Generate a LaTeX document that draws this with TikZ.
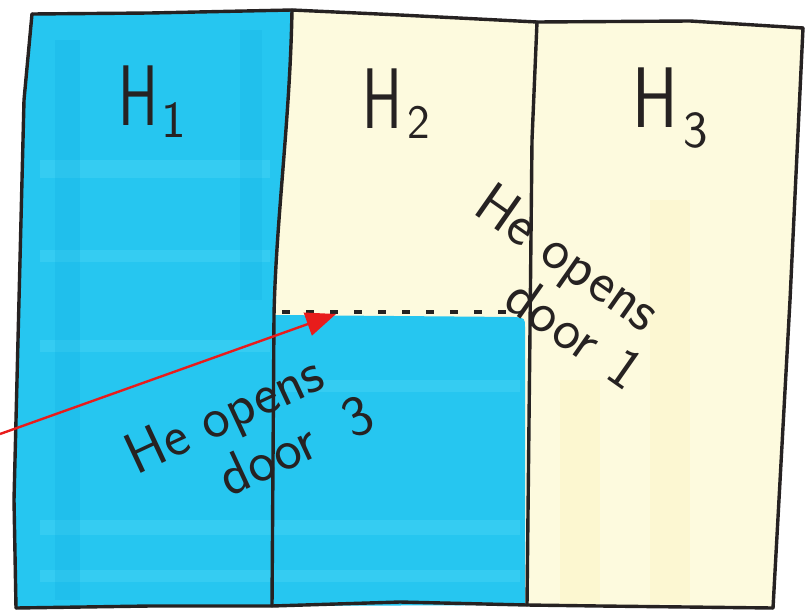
\documentclass[tikz,border=0pt]{standalone}
\usetikzlibrary{arrows.meta}
\definecolor{hblue}{RGB}{38,198,240}
\definecolor{hbluelight}{RGB}{90,220,248}
\definecolor{hbluedark}{RGB}{20,178,228}
\definecolor{cream}{RGB}{253,250,222}
\definecolor{creamy}{RGB}{252,246,200}
\definecolor{ink}{RGB}{38,34,34}
\definecolor{arrred}{RGB}{232,28,28}
\begin{document}
\begin{tikzpicture}[x=1pt,y=-1pt,
  edge/.style={draw=ink,line width=3.4pt,line cap=round,line join=round},
  hlabel/.style={font=\sffamily\fontsize{86}{90}\selectfont, text=ink, inner sep=0pt, anchor=base west},
  note/.style={font=\sffamily\fontsize{58}{59}\selectfont, text=ink, inner sep=0pt, align=left},
  streak/.style={fill=hbluelight, opacity=0.3},
  redarrow/.style={draw=arrred, line width=2.4pt, -{Triangle[length=30pt,width=24pt]}}]
\useasboundingbox (0,0) rectangle (805,613);
\fill[white] (0,0) rectangle (805,613);
% corners
\coordinate (tl) at (32,14);
\coordinate (t1) at (292,10);
\coordinate (t2) at (537,22);
\coordinate (tr) at (803,28);
\coordinate (br) at (773,608);
\coordinate (b2) at (527,605);
\coordinate (b1) at (272,606);
\coordinate (bl) at (16,608);
\coordinate (m1) at (274,315);
% cream background
\fill[cream] (tl) -- (150,13) -- (t1) -- (400,15) -- (t2) -- (690,21) -- (tr) -- (790,300) -- (br) -- (600,606) -- (b2) -- (400,602) -- (b1) -- (150,606) -- (bl) -- (14,500) -- (24,100) -- cycle;
\fill[creamy, opacity=0.6] (560,380) rectangle (600,604);
\fill[creamy, opacity=0.5] (650,200) rectangle (690,604);
% blue column H1
\fill[hblue] (tl) -- (150,13) -- (t1) .. controls (290,120) and (276,220) .. (m1) -- (b1) -- (150,606) -- (bl) -- (14,500) -- (24,100) -- cycle;
% blue lower part of H2
\fill[hblue] (m1) -- (515,317) .. controls (525,318) .. (525,328) -- (525,605) -- (b1) -- cycle;
% highlighter streaks
\fill[streak] (40,160) rectangle (270,178);
\fill[streak] (40,250) rectangle (270,262);
\fill[streak] (40,340) rectangle (270,352);
\fill[streak] (40,520) rectangle (520,535);
\fill[streak] (40,570) rectangle (520,582);
\fill[streak] (280,380) rectangle (520,392);
\fill[hbluedark, opacity=0.3] (55,40) rectangle (80,600);
\fill[hbluedark, opacity=0.25] (240,30) rectangle (262,300);
% dashed edge of the blue area
\draw[ink, line width=3.5pt, dash pattern=on 8pt off 16pt] (282,312) -- (522,312);
% outline
\draw[edge] (tl) -- (150,13) -- (t1) -- (400,15) -- (t2) -- (690,21) -- (tr);
\draw[edge] (tr) -- (790,300) -- (br);
\draw[edge] (br) -- (600,606) -- (b2) -- (400,602) -- (b1) -- (150,606) -- (bl);
\draw[edge] (bl) -- (14,500) -- (24,100) -- (tl);
\draw[edge] (t1) .. controls (290,120) and (276,220) .. (m1) -- (b1);
\draw[edge] (t2) -- (532,140) -- (530,330) -- (b2);
% labels
\node[hlabel] (h1) at (118,125) {\scalebox{0.7}[1]{H}\hspace{3pt}\raisebox{-12pt}{\fontsize{52}{52}\selectfont 1}};
\node[hlabel] (h2) at (362,128) {\scalebox{0.7}[1]{H}\hspace{5pt}\raisebox{-10pt}{\fontsize{48}{48}\selectfont 2}};
\node[hlabel] (h3) at (632,127) {\scalebox{0.8}[1]{H}\hspace{6pt}\raisebox{-20pt}{\fontsize{52}{52}\selectfont 3}};
% notes
\node[note, rotate=25] (n3) at (249,434) {He opens\\\hspace*{1.3em}door\hspace{0.6em}3};
\node[note, rotate=-35] (n1) at (560,286) {He opens\\\hspace*{1.35em}door\hspace{0.4em}1};
% red arrow
\coordinate (arrtail) at (0,434);
\coordinate (arrtip) at (336,314);
\draw[redarrow] (arrtail) -- (arrtip);
\end{tikzpicture}
\end{document}
